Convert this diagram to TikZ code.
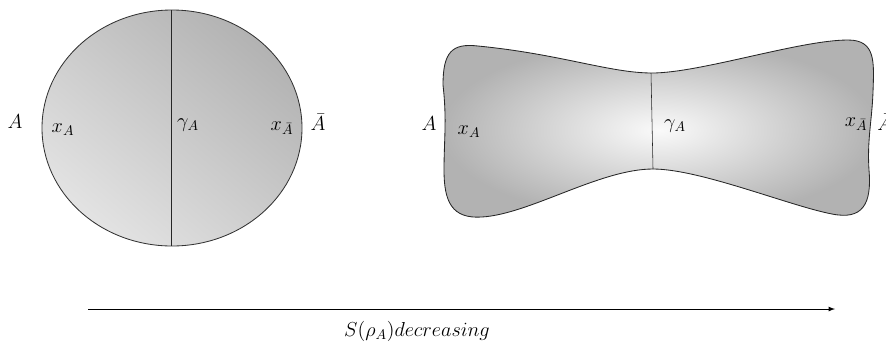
\documentclass[tikz,border=0pt]{standalone}
\usepackage{amsmath}
\begin{document}
\begin{tikzpicture}[x=0.025cm, y=-0.025cm,
    lbl/.style={font=\Large, inner sep=0pt}]
        \useasboundingbox (0,0) rectangle (886,345);
        % left region: disc cut in two
        \draw[black!80, semithick, top color=gray!60, bottom color=gray!22, shading angle=-40] (172,128) ellipse [x radius=130, y radius=118];
        \coordinate (ctop) at (171,10);
        \coordinate (cbot) at (171,246);
        \draw[black!85] (ctop) -- (cbot);
        \node[lbl] (la) at (15,122) {$A$};
        \node[lbl] (lxa) at (63,130) {$x_A$};
        \node[lbl] (lg) at (188,125) {$\gamma_A$};
        \node[lbl] (lxb) at (282,128) {$x_{\bar{A}}$};
        \node[lbl] (lb) at (318,122) {$\bar{A}$};
        % right region: bow tie
        \draw[black!85, semithick, inner color=gray!4, outer color=gray!60]
            (443,85) .. controls (443,52) and (452,43) .. (478,46)
            .. controls (560,54) and (610,73) .. (652,73)
            .. controls (700,73) and (800,40) .. (848,40)
            .. controls (876,40) and (874,62) .. (873,92)
            .. controls (872,120) and (867,140) .. (869,170)
            .. controls (872,205) and (862,220) .. (832,214)
            .. controls (790,206) and (700,169) .. (653,169)
            .. controls (600,169) and (530,214) .. (482,217)
            .. controls (452,219) and (444,202) .. (444,170)
            .. controls (444,140) and (447,120) .. (443,85) -- cycle;
        \coordinate (btop) at (651,73);
        \coordinate (bbot) at (653,169);
        \draw[black!85] (btop) -- (bbot);
        \node[lbl] (ra) at (429,124) {$A$};
        \node[lbl] (rxa) at (469,132) {$x_A$};
        \node[lbl] (rg) at (675,126) {$\gamma_A$};
        \node[lbl] (rxb) at (856,124) {$x_{\bar{A}}$};
        \node[lbl, anchor=west] (rb) at (877,122) {$\bar{A}$};
        % entropy axis
        \coordinate (s0) at (88,309);
        \coordinate (s1) at (835,309);
        \draw[-latex, semithick] (s0) -- (s1);
        \node[lbl] (ent) at (417,331) {$S(\rho_A) decreasing$};
\end{tikzpicture}
\end{document}
